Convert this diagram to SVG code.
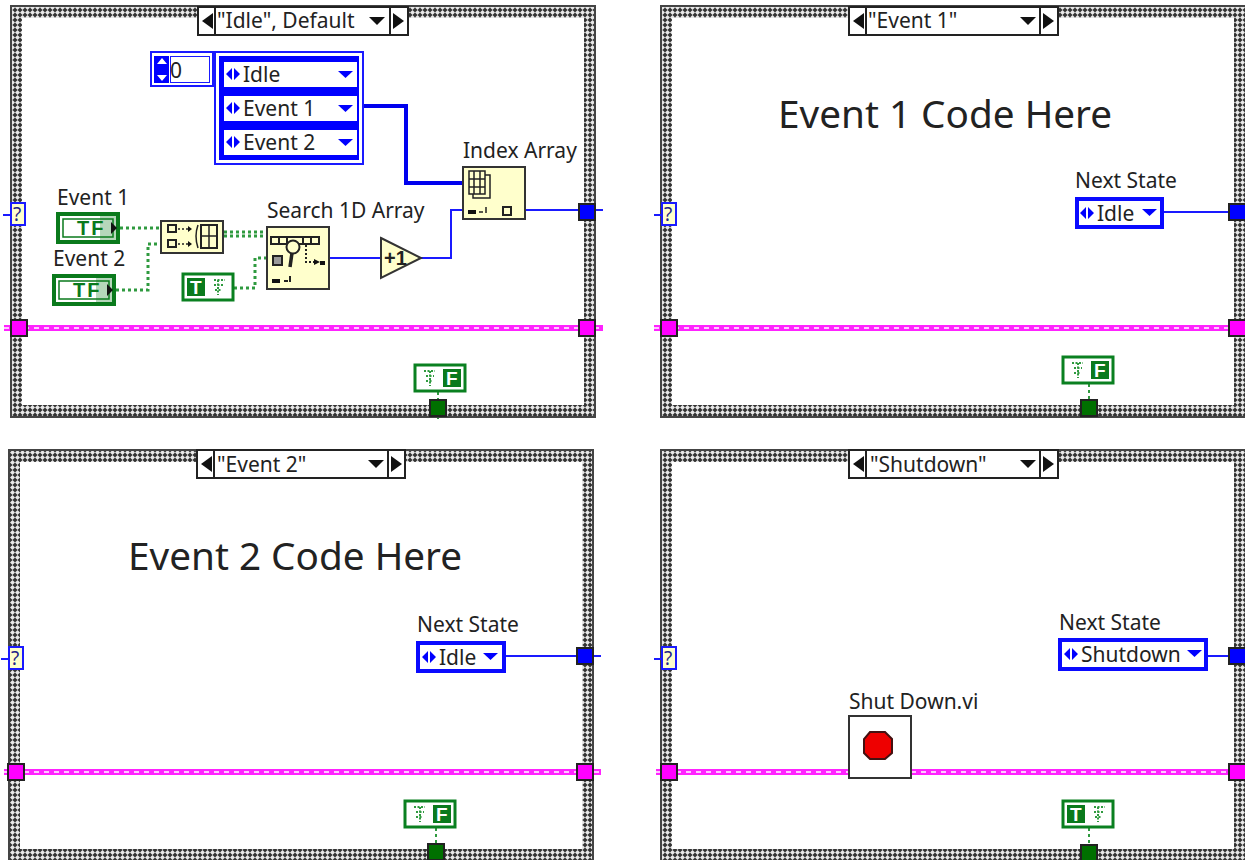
<svg xmlns="http://www.w3.org/2000/svg" width="1245" height="860" viewBox="0 0 1245 860">
<style>
text{font-family:"Noto Sans","DejaVu Sans",sans-serif;font-size:21px;fill:#222}
.big{font-size:38.700px}
.band{fill:url(#chk)}
.edge{fill:none;stroke:#444;stroke-width:2}
.sel{fill:#fff;stroke:#222;stroke-width:2}
.ar{fill:#111}
.blue{fill:none;stroke:#1a1aff;stroke-width:2}
.blue4{fill:none;stroke:#0000ee;stroke-width:4}
.green{fill:none;stroke:#2f9a3f;stroke-width:3;stroke-dasharray:3 3}
.pink{fill:none;stroke:#ff22ff;stroke-width:6}
.pinkd{fill:none;stroke:#fff;stroke-width:1.5;stroke-dasharray:5 5}
.node{fill:#ffffcc;stroke:#333;stroke-width:2}
.tb{fill:#0000ff;stroke:#222;stroke-width:2}
.tp{fill:#ff00ff;stroke:#222;stroke-width:2}
.tg{fill:#007000;stroke:#222;stroke-width:2}
.enum{fill:#fff;stroke:#0a0aff;stroke-width:4}
.bf{fill:#0000ff}
.gb{fill:#fff;stroke:#0a8020;stroke-width:3}
.gf{fill:#0a7a1c}
.gt{font-family:"Liberation Sans",sans-serif;font-weight:bold;font-size:19px;fill:#fff}
.tf{font-family:"Liberation Sans",sans-serif;font-weight:bold;font-size:20px;fill:#0a7a1c;letter-spacing:2px}
.ic{fill:none;stroke:#222;stroke-width:2}
</style>
<defs>
<pattern id="chk" width="5" height="5" patternUnits="userSpaceOnUse">
<rect width="5" height="5" fill="#333"/>
<path d="M2.500 0L5 2.500L2.500 5L0 2.500Z" fill="#e8e8e8"/>
</pattern>
<g id="larrow"><path class="ar" d="M1 -1L-10 7L1 15Z"/></g>
<g id="rarrow"><path class="ar" d="M-1 -1L10 7L-1 15Z"/></g>
<g id="darrow"><path class="ar" d="M0 0H16L8 8Z"/></g>
<g id="earr"><path class="bf" d="M-1 -6L-7 0L-1 6ZM1 -6L7 0L1 6Z"/></g>
<g id="barr"><path class="bf" d="M0 0H15L7.500 7Z"/></g>
<g id="sterm"><path class="blue" d="M-7 12H1"/><rect x="1" y="0" width="14" height="22" fill="#ffffcc" stroke="#1a1aff" stroke-width="2"/><text x="3" y="18" style="font-size:19px;fill:#222288">?</text></g>
<g id="constF"><rect class="gb" x="1" y="1" width="50" height="26"/><rect class="gf" x="29" y="5" width="18" height="18"/><text class="gt" x="32" y="21">F</text><path class="green" style="stroke-width:2;stroke-dasharray:2 1.500" d="M10 7H21M16 7V22M12 12H20M12 17H19"/></g>
<g id="constT"><rect class="gb" x="1" y="1" width="50" height="26"/><rect class="gf" x="5" y="5" width="18" height="18"/><text class="gt" x="8" y="21">T</text><path class="green" style="stroke-width:2;stroke-dasharray:2 1.500" d="M32 7H43M36 7V22M32 12H41M33 17H40"/></g>
<g id="ctlTF"><rect x="2" y="2" width="60" height="28" fill="#fff" stroke="#0a7a1c" stroke-width="4"/><rect x="7" y="7" width="50" height="18" fill="none" stroke="#0a7a1c" stroke-width="1.500"/><text class="tf" x="21" y="23">TF</text><rect x="44" y="4" width="17" height="24" fill="#0a7a1c" fill-opacity=".3"/><path class="ar" d="M55 10L61 16L55 22Z"/></g>
</defs>

<g id="connectors">
<path class="pink" d="M4 328H603"/><path class="pinkd" d="M4 328H603"/>
<path class="blue4" d="M364 106H406V183H463"/>
<path class="blue" d="M525 210H603"/>
<path class="blue" d="M330 258H381M421 258H451V210H463"/>
<path class="green" d="M120 228H160"/>
<path class="green" d="M116 290H148V244H160"/>
<path class="green" d="M224 232H267M224 236H267"/>
<path class="green" d="M234 288H255V258H267"/>
<path class="green" style="stroke-width:2" d="M438 392V420"/>

<path class="pink" d="M654 328H1245"/><path class="pinkd" d="M654 328H1245"/>
<path class="blue" d="M1163 212H1245"/>
<path class="green" style="stroke-width:2" d="M1089 384V420"/>

<path class="pink" d="M4 772H601"/><path class="pinkd" d="M4 772H601"/>
<path class="blue" d="M505 656H601"/>
<path class="green" style="stroke-width:2" d="M436 828V860"/>

<path class="pink" d="M656 772H849M911 772H1245"/><path class="pinkd" d="M656 772H849M911 772H1245"/>
<path class="blue" d="M1207 656H1245"/>
<path class="green" style="stroke-width:2" d="M1089 828V860"/>
</g>

<g id="frame1">
<path class="band" fill-rule="evenodd" d="M11 6H595V417H11ZM22 18V405H584V18Z"/>
<path class="edge" d="M11 6H595V417H11Z"/>
<rect class="sel" x="198" y="7" width="210" height="28"/><path class="sel" d="M215 7V35M390 7V35"/>
<use href="#larrow" x="212" y="14"/><use href="#rarrow" x="394" y="14"/><use href="#darrow" x="369" y="17"/>
<text x="217" y="28">"Idle", Default</text>
</g>
<g id="frame2">
<path class="band" fill-rule="evenodd" d="M661 6H1246V417H661ZM672 18V405H1234V18Z"/>
<path class="edge" d="M661 6H1246V417H661Z"/>
<rect class="sel" x="849" y="7" width="209" height="28"/><path class="sel" d="M866 7V35M1040 7V35"/>
<use href="#larrow" x="863" y="14"/><use href="#rarrow" x="1044" y="14"/><use href="#darrow" x="1020" y="17"/>
<text x="868" y="28">"Event 1"</text>
</g>
<g id="frame3">
<path class="band" fill-rule="evenodd" d="M9 450H593V870H9ZM20 462V849H582V462Z"/>
<path class="edge" d="M9 450H593V870H9Z"/>
<rect class="sel" x="197" y="450" width="208" height="28"/><path class="sel" d="M214 450V478M388 450V478"/>
<use href="#larrow" x="211" y="457"/><use href="#rarrow" x="392" y="457"/><use href="#darrow" x="368" y="460"/>
<text x="217" y="472">"Event 2"</text>
</g>
<g id="frame4">
<path class="band" fill-rule="evenodd" d="M661 450H1246V870H661ZM672 462V849H1234V462Z"/>
<path class="edge" d="M661 450H1246V870H661Z"/>
<rect class="sel" x="849" y="450" width="209" height="28"/><path class="sel" d="M866 450V478M1040 450V478"/>
<use href="#larrow" x="863" y="457"/><use href="#rarrow" x="1044" y="457"/><use href="#darrow" x="1020" y="460"/>
<text x="870" y="472">"Shutdown"</text>
</g>

<g id="idx-control">
<rect x="151" y="52" width="62" height="34" fill="#fff" stroke="#1a1aff" stroke-width="2"/>
<rect x="154" y="56" width="15" height="27" class="bf"/>
<rect x="170.500" y="56.500" width="39" height="26" fill="#fff" stroke="#1a1aff"/>
<path fill="#fff" d="M162 58L157 64H167ZM162 81L157 75H167Z"/>
<text x="170" y="78">0</text>
</g>
<g id="array-const">
<rect x="215" y="52" width="148" height="112" fill="#fff" stroke="#1a1aff" stroke-width="2"/>
<rect x="219" y="56" width="140" height="104" class="bf"/>
<rect x="224" y="62" width="133" height="25" fill="#fff"/>
<rect x="224" y="96" width="133" height="25" fill="#fff"/>
<rect x="224" y="130" width="133" height="25" fill="#fff"/>
<use href="#earr" x="233" y="74"/><use href="#earr" x="233" y="108"/><use href="#earr" x="233" y="142"/>
<use href="#barr" x="338" y="71"/><use href="#barr" x="338" y="105"/><use href="#barr" x="338" y="139"/>
<text x="243" y="82">Idle</text><text x="243" y="116">Event 1</text><text x="243" y="150">Event 2</text>
</g>
<g id="index-array">
<text x="463" y="158">Index Array</text>
<rect class="node" x="463" y="167" width="62" height="52"/>
<path class="ic" d="M469 171H485V194H469ZM469 179H485M469 187H485M474 171V194M480 171V194M485 175H490V198H473V194" style="stroke-width:1.500"/>
<path class="ar" d="M468 210H476V214H468Z"/><path class="ic" d="M479 212H483M486 213V207" style="stroke-width:1.500"/>
<rect x="503" y="207" width="8" height="8" fill="none" stroke="#222" stroke-width="2"/>
</g>
<g id="search-array">
<text x="267" y="218">Search 1D Array</text>
<rect class="node" x="267" y="227" width="62" height="62"/>
<path class="ic" style="stroke-width:2" d="M271 237H319V244H271ZM279 237V244M287 237V244M303 237V244M311 237V244"/>
<circle cx="293" cy="247" r="6.500" fill="#ffffcc" stroke="#222" stroke-width="2"/>
<path class="ic" style="stroke-width:3.500" d="M292 253L290 267"/>
<rect x="273" y="256" width="9" height="9" fill="#999" stroke="#222" stroke-width="2"/>
<path class="ar" d="M272 279H280V283H272Z"/>
<path class="ic" style="stroke-width:2" d="M284 281H288M290 282V276"/>
<path class="ic" style="stroke-width:2;stroke-dasharray:2 2" d="M306 245V262H314"/><path class="ar" d="M314 259L320 262L314 265Z"/>
<rect x="320" y="261" width="5" height="4" class="ar"/>
</g>
<g id="increment">
<path d="M381 238L421 258L381 278Z" fill="#ffffcc" stroke="#333" stroke-width="2"/>
<text x="384" y="265" style="font-family:'Liberation Sans',sans-serif;font-weight:bold;font-size:20px">+1</text>
</g>
<g id="build-array">
<rect class="node" x="161" y="221" width="62" height="32"/>
<path class="ic" style="stroke-width:2" d="M168 225H176V232H168ZM168 240H176V247H168Z"/>
<path class="ic" style="stroke-width:1.500;stroke-dasharray:2 2" d="M178 229H188M178 244H188"/>
<path class="ar" d="M188 226L192 229L188 232ZM188 241L192 244L188 247Z"/>
<path class="ic" style="stroke-width:1.500" d="M198 225Q194 236 198 248"/>
<rect x="201" y="225" width="16" height="23" fill="none" stroke="#222" stroke-width="2"/><path class="ic" style="stroke-width:1.500" d="M209 225V248M201 236H217"/>
</g>
<g id="event1"><text x="57" y="205">Event 1</text><use href="#ctlTF" x="56" y="212"/></g>
<g id="event2"><text x="53" y="266">Event 2</text><use href="#ctlTF" x="52" y="274"/></g>
<g id="const-t1"><use href="#constT" x="182" y="273"/></g>

<g id="tunnels1">
<use href="#sterm" x="10" y="203"/>
<rect class="tp" x="11" y="320" width="16" height="16"/><rect class="tp" x="579" y="320" width="16" height="16"/>
<rect class="tb" x="579" y="204" width="16" height="16"/>
<rect class="tg" x="430" y="400" width="16" height="16"/>
<use href="#constF" x="414" y="364"/>
</g>

<g id="tunnels2">
<text class="big" x="778" y="128">Event 1 Code Here</text>
<use href="#sterm" x="661" y="203"/>
<rect class="tp" x="661" y="320" width="16" height="16"/><rect class="tp" x="1229" y="320" width="17" height="16"/>
<rect class="tb" x="1229" y="204" width="17" height="16"/>
<rect class="tg" x="1081" y="400" width="16" height="16"/>
<use href="#constF" x="1062" y="356"/>
<text x="1075" y="188">Next State</text>
<rect class="enum" x="1077" y="199" width="85" height="28"/><use href="#earr" x="1087" y="213"/><use href="#barr" x="1142" y="209"/><text x="1097" y="221">Idle</text>
</g>

<g id="tunnels3">
<text class="big" x="128" y="570">Event 2 Code Here</text>
<use href="#sterm" x="8" y="647"/>
<rect class="tp" x="8" y="764" width="16" height="16"/><rect class="tp" x="577" y="764" width="16" height="16"/>
<rect class="tb" x="577" y="648" width="16" height="16"/>
<rect class="tg" x="428" y="844" width="16" height="16"/>
<use href="#constF" x="404" y="800"/>
<text x="417" y="632">Next State</text>
<rect class="enum" x="418" y="643" width="86" height="28"/><use href="#earr" x="429" y="657"/><use href="#barr" x="483" y="653"/><text x="439" y="665">Idle</text>
</g>

<g id="tunnels4">
<use href="#sterm" x="661" y="647"/>
<rect class="tp" x="661" y="764" width="16" height="16"/><rect class="tp" x="1229" y="764" width="17" height="16"/>
<rect class="tb" x="1229" y="648" width="17" height="16"/>
<rect class="tg" x="1081" y="845" width="16" height="16"/>
<use href="#constT" x="1062" y="800"/>
<text x="1059" y="630">Next State</text>
<rect class="enum" x="1060" y="640" width="146" height="29"/><use href="#earr" x="1071" y="654"/><use href="#barr" x="1187" y="650"/><text x="1081" y="662">Shutdown</text>
</g>
<g id="shutdown-vi">
<text x="849" y="709">Shut Down.vi</text>
<rect x="849" y="716" width="62" height="62" fill="#fff" stroke="#333" stroke-width="2"/>
<path d="M870 732H885L892 739V753L885 759H870L864 753V739Z" fill="#ee0000" stroke="#411" stroke-width="2"/>
</g>
</svg>
